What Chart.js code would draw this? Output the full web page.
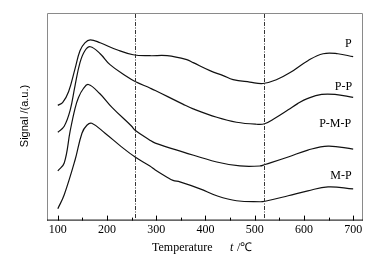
<!DOCTYPE html>
<html><head><meta charset="utf-8">
<script src="https://cdn.jsdelivr.net/npm/chart.js@4.4.0/dist/chart.umd.min.js"></script>
<style>html,body{margin:0;padding:0;background:#fff}#wrap{width:380px;height:259px}</style>
</head><body><div id="wrap"><canvas id="c" width="380" height="259"></canvas></div>
<script>
const seriesNames = ["P", "P-P", "P-M-P", "M-P"];
const tP   = [100,110,122,135,145,155,166,186,220,253,287,322,362,375,409,436,456,490,517,545,572,608,639,669,700];
const vP   = [116,119,130,153,171,179,182,179,172,167,166,166,162,159,151,146,142,139.5,138,142,149,161,168,168,165];
const tPP  = [100,113,125,135,145,155,166,186,206,240,257,287,298,355,375,423,463,504,520,541,568,588,608,636,663,700];
const vPP  = [89,95,111,136,159,171,175,168,157,145,140,133.5,131,117,112.5,104,99,97,97.5,103,111.5,118,123,127,127,124];
const tPMP = [100,113,125,135,142,152,162,185,210,250,257,287,298,355,423,470,511,521,568,608,649,700];
const vPMP = [50,58,90,113,124,133,137,128,114,95,91,81,78,69,59,55,55,56.5,64,71,75,72];
const tMP  = [100,113,135,149,159,169,196,230,257,287,298,321,334,348,389,423,463,511,521,568,608,649,700];
const vMP  = [12,26,61,88,96,98,88,74,64,55,51,44,40.5,39,32,25,20,19,19.5,25,30,34,32];
const xTicks = [100,200,300,400,500,600,700];
const xMinorTicks = [150,250,350,450,550,650];
const markerLines = [257,518];
const labelPos = [[697,178],[698,135],[696,97],[697,45]];

function pts(t,v){return t.map((x,i)=>({x:x,y:v[i]}));}
const allT=[tP,tPP,tPMP,tMP], allV=[vP,vPP,vPMP,vMP];

const deco = {
  id:'deco',
  afterDraw(chart){
    const ctx=chart.ctx, a=chart.chartArea, xs=chart.scales.x, ys=chart.scales.y;
    ctx.save();
    ctx.strokeStyle='#8a8a8a'; ctx.lineWidth=1;
    ctx.beginPath();
    ctx.moveTo(a.left+0.5,a.bottom); ctx.lineTo(a.left+0.5,a.top+0.5);
    ctx.lineTo(a.right-0.5,a.top+0.5); ctx.lineTo(a.right-0.5,a.bottom);
    ctx.stroke();
    ctx.strokeStyle='#000';
    ctx.beginPath(); ctx.moveTo(a.left,a.bottom-0.5); ctx.lineTo(a.right,a.bottom-0.5); ctx.stroke();
    ctx.beginPath();
    xTicks.forEach(v=>{const p=Math.round(xs.getPixelForValue(v))+0.5; ctx.moveTo(p,a.bottom); ctx.lineTo(p,a.bottom-5);});
    xMinorTicks.forEach(v=>{const p=Math.round(xs.getPixelForValue(v))+0.5; ctx.moveTo(p,a.bottom); ctx.lineTo(p,a.bottom-3);});
    ctx.stroke();
    ctx.strokeStyle='#333'; ctx.setLineDash([4,1.5,1,1.5]);
    ctx.beginPath();
    markerLines.forEach(v=>{const p=Math.round(xs.getPixelForValue(v))+0.5; ctx.moveTo(p,a.top+1); ctx.lineTo(p,a.bottom-1);});
    ctx.stroke(); ctx.setLineDash([]);
    ctx.fillStyle='#000'; ctx.font='12px "Liberation Serif"'; ctx.textAlign='right'; ctx.textBaseline='middle';
    seriesNames.forEach((n,i)=>{ctx.fillText(n, xs.getPixelForValue(labelPos[i][0]), ys.getPixelForValue(labelPos[i][1]));});
    ctx.textAlign='left'; ctx.textBaseline='middle';
    ctx.font='12px "Liberation Serif"';
    ctx.fillText('Temperature', 152, 248);
    ctx.font='italic 12px "Liberation Serif"';
    ctx.fillText('t', 230, 248);
    ctx.font='12px "Liberation Serif"';
    ctx.fillText(' /\u2103', 234, 248);
    ctx.translate(25, 116); ctx.rotate(-Math.PI/2);
    ctx.textAlign='center'; ctx.font='11px "Liberation Sans"';
    ctx.fillText('Signal /(a.u.)', 0, 0);
    ctx.restore();
  }
};

new Chart(document.getElementById('c'), {
  type:'line',
  data:{datasets: allT.map((t,i)=>({label:seriesNames[i], data:pts(t,allV[i]), borderColor:'#111', borderWidth:1.2, pointRadius:0, fill:false, tension:0.4}))},
  options:{
    responsive:false, animation:false, devicePixelRatio:1,
    layout:{padding:{left:47,right:17,top:13,bottom:20}},
    plugins:{legend:{display:false}, tooltip:{enabled:false}},
    scales:{
      x:{type:'linear', min:78, max:720,
         afterBuildTicks(s){s.ticks=xTicks.map(v=>({value:v}));},
         grid:{display:false, drawTicks:false}, border:{display:false},
         ticks:{padding:2, color:'#000', font:{family:'Liberation Serif', size:12}, maxRotation:0, autoSkip:false}},
      y:{display:false, min:0, max:209}
    }
  },
  plugins:[deco]
});
</script></body></html>
